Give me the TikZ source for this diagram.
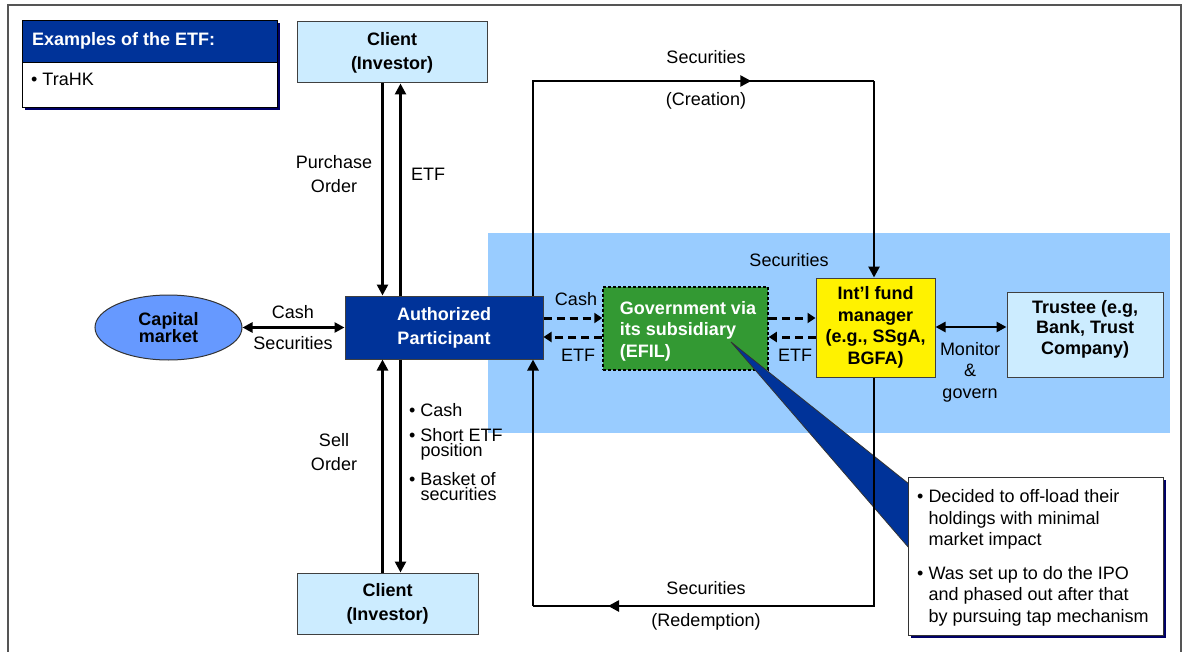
\documentclass[tikz,border=0pt]{standalone}
\usepackage{fontspec}
\setmainfont{Liberation Sans}
\usetikzlibrary{arrows.meta,shapes.geometric,calc}

\definecolor{apblue}{HTML}{003399}
\definecolor{bandblue}{HTML}{99CCFF}
\definecolor{paleblue}{HTML}{CCECFF}
\definecolor{govgreen}{HTML}{339933}
\definecolor{capblue}{HTML}{6699FF}
\definecolor{shadownavy}{HTML}{000066}
\definecolor{framegray}{HTML}{555555}

\newcommand\lblfont{\fontsize{18}{21.5}\selectfont}
\newcommand\tightfont{\fontsize{18}{15.5}\selectfont}

\tikzset{
  lbl/.style={font=\lblfont, inner sep=0pt, align=center},
  bx/.style={draw=black!75, line width=1pt, inner sep=0pt, align=center,
             font=\lblfont\bfseries},
  ln/.style={line width=2.6pt},
  arr/.style={ln, -{Triangle[length=11pt,width=11pt]}},
  dblarr/.style={ln, {Triangle[length=10pt,width=10pt]}-{Triangle[length=10pt,width=10pt]}},
  darr/.style={line width=3pt, dash pattern=on 8pt off 5pt,
               -{Triangle[length=8pt,width=10pt]}},
  frame/.style={draw=framegray, line width=2pt},
}

\begin{document}
\begin{tikzpicture}[x=1pt,y=-1pt]
\useasboundingbox (0,0) rectangle (1182,652);

% page frame
\draw[frame] (8,652) -- (8,5) -- (1181,5) -- (1181,652);

% shaded fund area
\fill[bandblue] (488,233) rectangle (1170,433);

% examples panel
\fill[shadownavy] (25,23) rectangle (280,110);
\node[draw=black, line width=1pt, fill=white, anchor=north west, inner sep=0pt,
      minimum width=255pt, minimum height=45pt] (exBody) at (22,62) {};
\node[lbl, anchor=west] (exItem) at (31,79) {\textbullet\ TraHK};
\node[draw=black, line width=1pt, fill=apblue, anchor=north west, inner sep=0pt,
      minimum width=255pt, minimum height=42pt] (exHead) at (22,20) {};
\node[lbl, anchor=west, text=white, font=\lblfont\bfseries] (exTitle) at (32,41) {Examples of the ETF:};

% main parties
\node[bx, fill=paleblue, minimum width=190pt, minimum height=61pt] (clientTop) at (392,52.5)
  {Client\\[2.5pt](Investor)};
\node[bx, fill=paleblue, minimum width=181pt, minimum height=61pt] (clientBot) at (387.5,603.5)
  {Client\\[2.5pt](Investor)};
\node[bx, fill=apblue, text=white, minimum width=198pt, minimum height=63pt] (ap) at (444,327.5)
  {Authorized\\[2.5pt]Participant};
\node[ellipse, draw=black!80, line width=1pt, fill=capblue, inner sep=0pt, align=center,
      minimum width=147pt, minimum height=65pt, font=\tightfont\bfseries] (cap) at (168.5,327.5)
  {Capital\\market};
\node[bx, fill=govgreen, draw=black, line width=1.5pt, dash pattern=on 3pt off 2pt,
      minimum width=165pt, minimum height=83pt] (gov) at (685.5,328.5) {};
\node[lbl, text=white, font=\lblfont\bfseries, align=left] (govText) at (688,331)
  {Government via\\its subsidiary\\(EFIL)};
\node[bx, fill=yellow, minimum width=119pt, minimum height=99pt] (fm) at (875.5,327.5)
  {Int’l fund\\manager\\(e.g., SSgA,\\BGFA)};
\node[bx, fill=paleblue, minimum width=156pt, minimum height=85pt] (trustee) at (1085,334.5) {};
\node[lbl, font=\fontsize{18}{20.5}\selectfont\bfseries] (trusteeText) at (1085,329)
  {Trustee (e.g,\\Bank, Trust\\Company)};

% routing coordinates
\coordinate (vL) at (382.5,0);
\coordinate (vR) at (400.5,0);
\coordinate (cTL) at (533,81);
\coordinate (cTR) at (874,81);
\coordinate (cBL) at (533,606);
\coordinate (cBR) at (874,606);
\coordinate (dU) at (0,318);
\coordinate (dD) at (0,337);
\coordinate (mg) at (0,327);

% callout pointer, under the flow lines
\fill[apblue, draw=black!80, line width=0.8pt] (731,342) -- (909,484) -- (909,548) -- cycle;

% investor flows
\draw[arr] (vL |- clientTop.south) -- (vL |- ap.north);
\draw[arr] (vR |- ap.north) -- (vR |- clientTop.south);
\draw[arr] (vL |- clientBot.north) -- (vL |- ap.south);
\draw[arr] (vR |- ap.south) -- (vR |- clientBot.north);

% capital market exchange
\draw[dblarr] (cap.east) -- (ap.west);

% creation loop
\draw[ln] (cTL |- ap.north) -- (cTL) -- (cTR);
\draw[arr] (cTR) -- (cTR |- fm.north);
\draw[arr] (cTL) -- ($(cTL)!0.64!(cTR)$);

% redemption loop
\draw[ln] (cBR |- fm.south) -- (cBR) -- (cBL);
\draw[arr] (cBL) -- (cBL |- ap.south);
\draw[arr] (cBR) -- ($(cBR)!0.78!(cBL)$);

% cash / ETF exchanges with the subsidiary
\draw[darr] (dU -| ap.east) -- (dU -| gov.west);
\draw[darr] (dD -| gov.west) -- (dD -| ap.east);
\draw[darr] (dU -| gov.east) -- (dU -| fm.west);
\draw[darr] (dD -| fm.west) -- (dD -| gov.east);

% oversight
\draw[dblarr] (mg -| fm.east) -- (mg -| trustee.west);

% callout box
\fill[shadownavy] (911,480) rectangle (1166,638);
\node[draw=black!80, line width=1pt, fill=white, inner sep=0pt,
      minimum width=255pt, minimum height=158pt] (note) at (1035.5,556) {};
\node[lbl, anchor=west, align=left] (noteText) at (917,558)
  {\textbullet\ Decided to off-load their\\
   \hphantom{\textbullet\ }holdings with minimal\\
   \hphantom{\textbullet\ }market impact\\[12pt]
   \textbullet\ Was set up to do the IPO\\
   \hphantom{\textbullet\ }and phased out after that\\
   \hphantom{\textbullet\ }by pursuing tap mechanism};

% labels
\node[lbl] (lCash1) at (293,312) {Cash};
\node[lbl] (lSec1) at (293,343) {Securities};
\node[lbl] (lPurch) at (334,174) {Purchase\\[2.5pt]Order};
\node[lbl] (lEtf1) at (428,174) {ETF};
\node[lbl] (lSell) at (334,452) {Sell\\[2.5pt]Order};
\node[lbl, anchor=west, font=\tightfont] (b1) at (409,410) {\textbullet\ Cash};
\node[lbl, anchor=west, align=left, font=\tightfont] (b2) at (409,444.5)
  {\textbullet\ Short ETF\\\hphantom{\textbullet\ }position};
\node[lbl, anchor=west, align=left, font=\tightfont] (b3) at (409,486.5)
  {\textbullet\ Basket of\\\hphantom{\textbullet\ }securities};
\node[lbl] (lSecTop) at (706,57) {Securities};
\node[lbl] (lCreat) at (706,101) {(Creation)};
\node[lbl] (lSecBand) at (789,260) {Securities};
\node[lbl] (lCash2) at (576,299) {Cash};
\node[lbl] (lEtf2) at (578,355) {ETF};
\node[lbl] (lEtf3) at (795,355) {ETF};
\node[lbl] (lMon) at (970,372) {Monitor\\\&\\govern};
\node[lbl] (lSecBot) at (706,588) {Securities};
\node[lbl] (lRedem) at (706,622) {(Redemption)};
\end{tikzpicture}
\end{document}
